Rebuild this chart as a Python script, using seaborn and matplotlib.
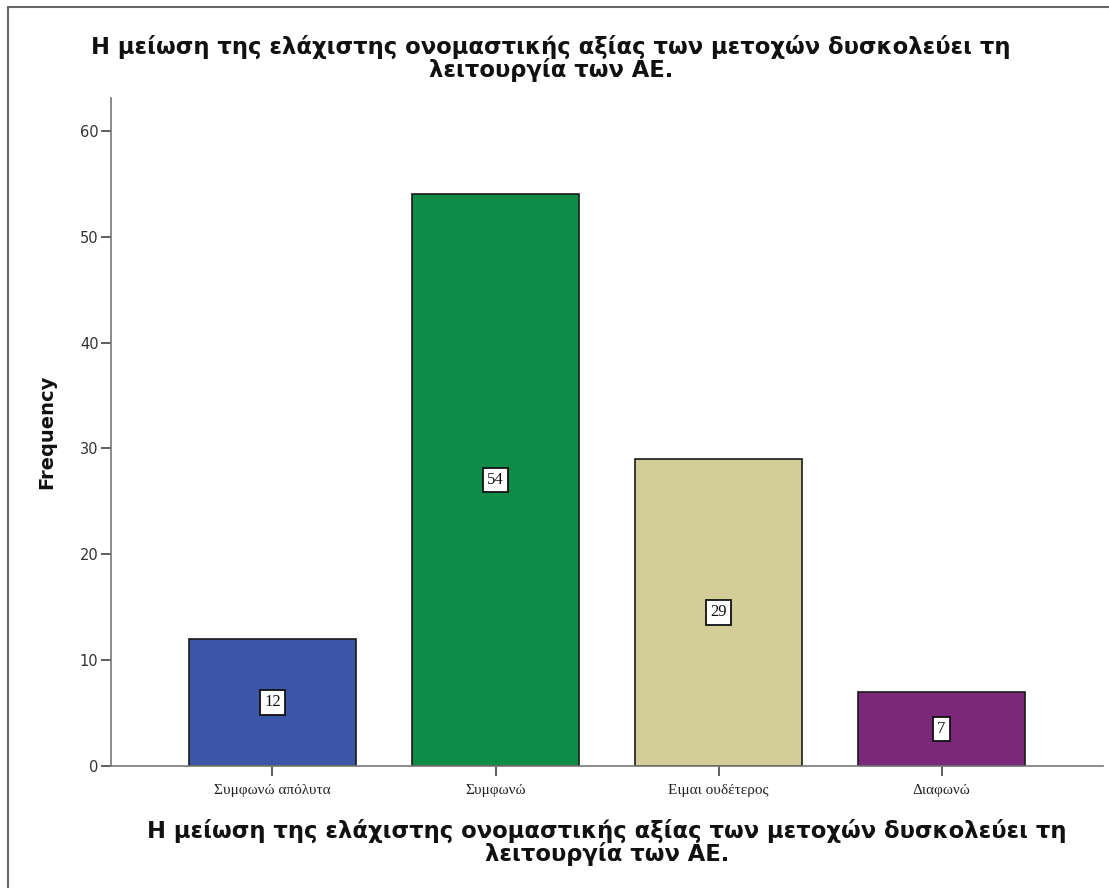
import pandas as pd
import matplotlib.pyplot as plt
import seaborn as sns
from matplotlib.lines import Line2D

# Data
categories = ["Συμφωνώ απόλυτα", "Συμφωνώ", "Ειμαι ουδέτερος", "Διαφωνώ"]
frequencies = [12, 54, 29, 7]
bar_colors = ["#3C56A8", "#0E8C47", "#D3CE97", "#7B287B"]
y_ticks = [0, 10, 20, 30, 40, 50, 60]
title_text = "Η μείωση της ελάχιστης ονομαστικής αξίας των μετοχών δυσκολεύει τη\nλειτουργία των ΑΕ."

df = pd.DataFrame({"category": categories, "freq": frequencies})

sns.set_theme(style="ticks")
plt.rcParams["font.family"] = ["DejaVu Sans"]

fig = plt.figure(figsize=(11.09, 8.88), dpi=100)
ax = fig.add_axes([0.1001, 0.1374, 0.8945, 0.7522])

sns.barplot(data=df, x="category", y="freq", hue="category", palette=bar_colors,
            width=0.75, edgecolor="#1a1a1a", linewidth=1.2, legend=False, ax=ax, saturation=1)

# value labels in white boxes at mid-height
for i, v in enumerate(frequencies):
    ax.text(i, v / 2, str(v), ha="center", va="center", fontsize=12,
            family=["Liberation Serif", "DejaVu Serif"], color="#111111",
            bbox=dict(boxstyle="square,pad=0.25", fc="white", ec="#111111", lw=1.3))

ax.set_xlim(-0.724, 3.724)
ax.set_ylim(0, 63.1)
ax.set_yticks(y_ticks)
ax.set_yticklabels([str(t) for t in y_ticks], family=["DejaVu Sans"], fontsize=10.5, color="#333333")
ax.set_xticks(range(len(categories)))
ax.set_xticklabels(categories, family=["Liberation Serif", "DejaVu Serif"], fontsize=11, color="#222222")

sns.despine(ax=ax)
for s in ["left", "bottom"]:
    ax.spines[s].set_color("#777777")
    ax.spines[s].set_linewidth(1.2)
ax.tick_params(axis="both", direction="out", length=7, width=1.2, color="#444444", pad=2)
ax.tick_params(axis="x", pad=6)

ax.set_ylabel("Frequency", fontsize=14, fontweight="bold", labelpad=17, color="#111111")
ax.set_xlabel(title_text, fontsize=16.3, fontweight="bold", linespacing=0.92, labelpad=16, color="#111111")
fig.text(0.497, 0.934, title_text, ha="center", va="center", fontsize=16.3, fontweight="bold",
         linespacing=0.92, color="#111111")

# outer frame lines (left and top) like the exported picture
fig.add_artist(Line2D([0.0075, 0.0075], [0, 0.992], transform=fig.transFigure, color="#666666", lw=1.5))
fig.add_artist(Line2D([0.0075, 1], [0.992, 0.992], transform=fig.transFigure, color="#666666", lw=1.5))

fig.savefig("out.png", dpi=100)
